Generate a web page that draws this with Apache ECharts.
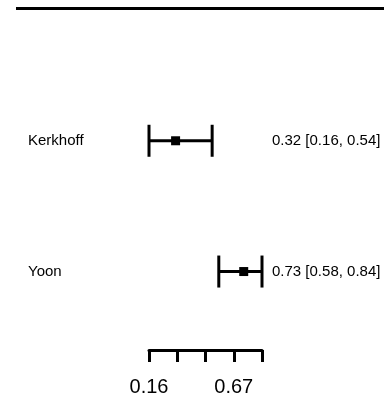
<!DOCTYPE html>
<html>
<head>
	<meta charset="utf-8">
	<title></title>
	<script src="https://cdn.jsdelivr.net/npm/echarts@6/dist/echarts.min.js"></script>
	<style>
		html,body{margin:0;padding:0;background:#fff;}
		#chart{width:384px;height:401px;}
	</style>
</head>
<body>
	<div id="chart"></div>
</body>
<script type="text/javascript">
	var studies=['Kerkhoff','Yoon'];
	var est=[0.32,0.73];
	var low=[0.16,0.58];
	var high=[0.54,0.84];
	var rows=[1,2];
	var tickValues=[0.16,0.33,0.50,0.67,0.84];
	var tickLabels=[0.16,0.67];

	var data=[];
	for(let i in studies){
		data.push([est[i],low[i],high[i],rows[i]]);
	}
	function fmt(v){return v.toFixed(2);}

	var myChart=echarts.init(document.getElementById('chart'));
	var option={
		animation:false,
		textStyle:{fontFamily:'Liberation Sans, Arial, sans-serif'},
		grid:{left:149,right:122,top:10,bottom:51},
		graphic:[{
			type:'line',
			shape:{x1:16,y1:8.5,x2:384,y2:8.5},
			style:{stroke:'#000',lineWidth:3}
		}],
		xAxis:{
			type:'value',min:0.16,max:0.84,position:'bottom',
			splitLine:{show:false},
			axisLine:{show:true,onZero:false,lineStyle:{color:'#000',width:3}},
			axisTick:{show:true,length:12,lineStyle:{color:'#000',width:3},customValues:tickValues},
			axisLabel:{customValues:tickLabels,color:'#000',fontSize:20,margin:27,formatter:fmt}
		},
		yAxis:[{
			type:'value',min:0,max:2.6,inverse:true,
			splitLine:{show:false},axisLine:{show:false},axisTick:{show:false},
			axisLabel:{customValues:rows,align:'left',margin:121,color:'#000',fontSize:15,
				formatter:function(v){return studies[rows.indexOf(v)];}}
		},{
			type:'value',min:0,max:2.6,inverse:true,position:'right',
			splitLine:{show:false},axisLine:{show:false},axisTick:{show:false},
			axisLabel:{customValues:rows,align:'left',margin:10,color:'#000',fontSize:15,
				formatter:function(v){
					let i=rows.indexOf(v);
					return fmt(est[i])+' ['+fmt(low[i])+', '+fmt(high[i])+']';
				}}
		}],
		series:[{
			type:'custom',
			clip:false,
			data:data,
			renderItem:function(params,api){
				let c=api.coord([api.value(0),api.value(3)]);
				let l=api.coord([api.value(1),api.value(3)]);
				let h=api.coord([api.value(2),api.value(3)]);
				let st={stroke:'#000',lineWidth:3,fill:null};
				return {type:'group',children:[
					{type:'line',shape:{x1:l[0],y1:l[1],x2:h[0],y2:h[1]},style:st},
					{type:'line',shape:{x1:l[0],y1:l[1]-16,x2:l[0],y2:l[1]+16},style:st},
					{type:'line',shape:{x1:h[0],y1:h[1]-16,x2:h[0],y2:h[1]+16},style:st},
					{type:'rect',shape:{x:c[0]-4.5,y:c[1]-4.5,width:9,height:9},style:{fill:'#000'}}
				]};
			}
		}]
	};
	myChart.setOption(option);
	window.addEventListener('resize',()=>{
		myChart.resize();
	});
</script>
</html>
